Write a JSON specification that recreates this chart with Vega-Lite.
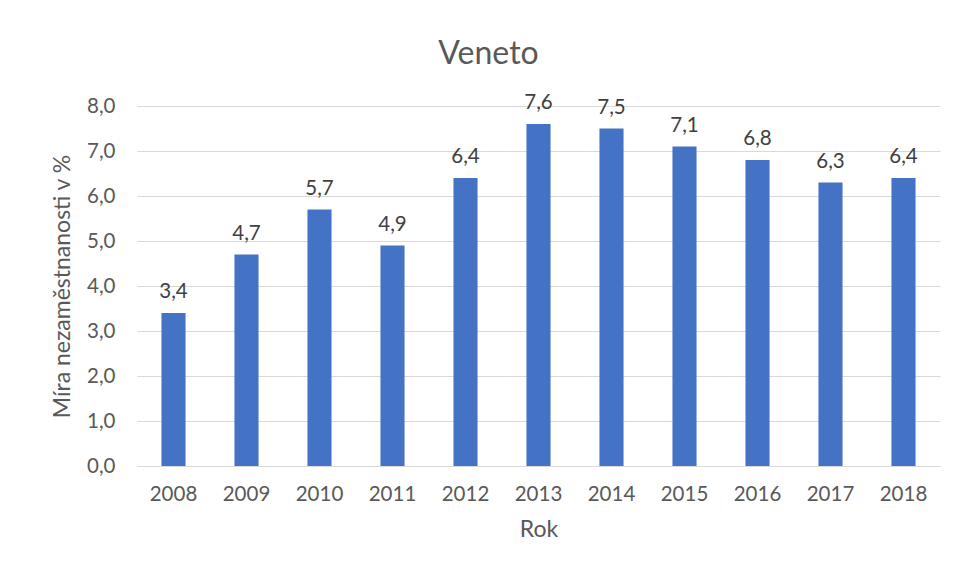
{
  "$schema": "https://vega.github.io/schema/vega-lite/v6.json",
  "width": 803,
  "height": 360,
  "autosize": {"type": "none"},
  "padding": {"left": 137, "top": 106, "right": 17, "bottom": 112},
  "background": "white",
  "title": {
    "text": "Veneto",
    "font": "Lato",
    "fontSize": 32,
    "fontWeight": "normal",
    "color": "#595959",
    "anchor": "middle",
    "dx": -50,
    "offset": 22
  },
  "config": {
    "locale": {"number": {"decimal": ",", "thousands": " ", "grouping": [3], "currency": ["", " Kč"]}},
    "view": {"stroke": null},
    "font": "Lato"
  },
  "data": {
    "values": [
      {"rok": "2008", "mira": 3.4},
      {"rok": "2009", "mira": 4.7},
      {"rok": "2010", "mira": 5.7},
      {"rok": "2011", "mira": 4.9},
      {"rok": "2012", "mira": 6.4},
      {"rok": "2013", "mira": 7.6},
      {"rok": "2014", "mira": 7.5},
      {"rok": "2015", "mira": 7.1},
      {"rok": "2016", "mira": 6.8},
      {"rok": "2017", "mira": 6.3},
      {"rok": "2018", "mira": 6.4}
    ]
  },
  "encoding": {
    "x": {
      "field": "rok",
      "type": "ordinal",
      "scale": {"paddingInner": 0.67, "paddingOuter": 0.335},
      "axis": {
        "title": "Rok",
        "labelAngle": 0,
        "labelFontSize": 20.5,
        "labelColor": "#595959",
        "labelPadding": 18,
        "ticks": false,
        "domainColor": "#d9d9d9",
        "titleFontSize": 23,
        "titleFontWeight": "normal",
        "titleColor": "#595959",
        "titlePadding": 14
      }
    },
    "y": {
      "field": "mira",
      "type": "quantitative",
      "scale": {"domain": [0, 8]},
      "axis": {
        "title": "Míra nezaměstnanosti v %",
        "format": ".1f",
        "values": [0, 1, 2, 3, 4, 5, 6, 7, 8],
        "labelOverlap": false,
        "labelFontSize": 20.5,
        "labelColor": "#595959",
        "labelPadding": 22,
        "ticks": false,
        "domain": false,
        "gridColor": "#d9d9d9",
        "titleFontSize": 23,
        "titleFontWeight": "normal",
        "titleColor": "#595959",
        "titlePadding": 12
      }
    }
  },
  "layer": [
    {"mark": {"type": "bar", "color": "#4472C4"}},
    {
      "mark": {"type": "text", "baseline": "bottom", "dy": -11, "fontSize": 20.5, "color": "#404040"},
      "encoding": {"text": {"field": "mira", "type": "quantitative", "format": ".1f"}}
    }
  ]
}
